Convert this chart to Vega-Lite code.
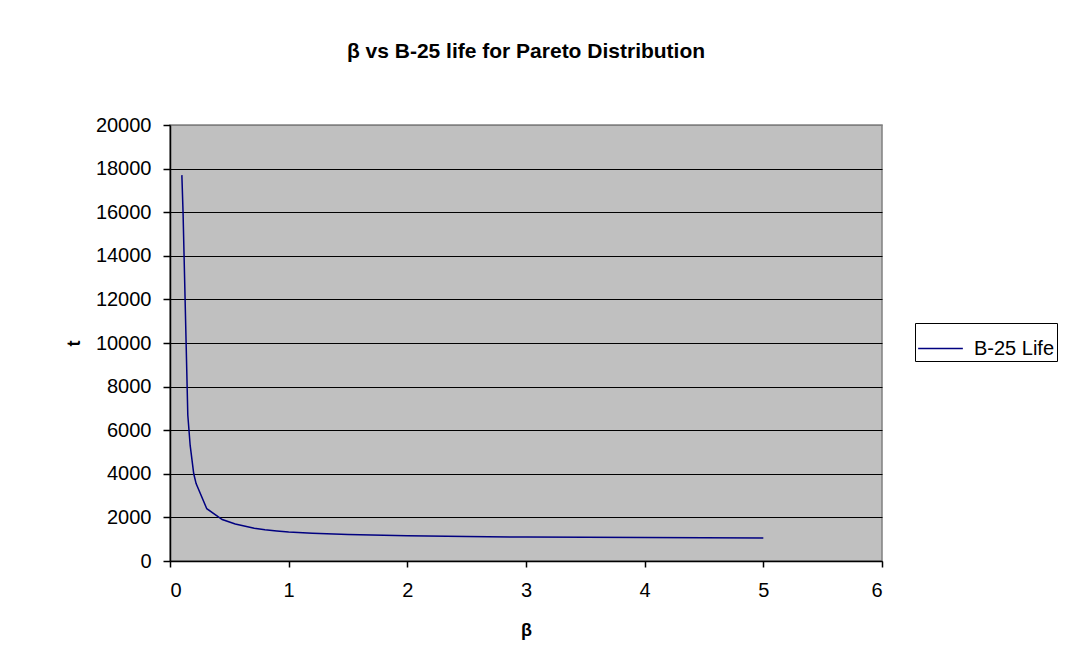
{
  "$schema": "https://vega.github.io/schema/vega-lite/v6.json",
  "width": 712,
  "height": 436,
  "autosize": {"type": "none"},
  "padding": {"left": 170, "top": 125, "right": 200, "bottom": 98},
  "background": "white",
  "title": {
    "text": "β vs B-25 life for Pareto Distribution",
    "font": "Liberation Sans",
    "fontSize": 21,
    "fontWeight": "bold",
    "color": "black",
    "anchor": "middle",
    "offset": 53
  },
  "data": {
    "values": [
      {"beta": 0.10, "t": 17700, "series": "B-25 Life"},
      {"beta": 0.11, "t": 16000, "series": "B-25 Life"},
      {"beta": 0.15, "t": 6700, "series": "B-25 Life"},
      {"beta": 0.17, "t": 5300, "series": "B-25 Life"},
      {"beta": 0.20, "t": 4000, "series": "B-25 Life"},
      {"beta": 0.22, "t": 3550, "series": "B-25 Life"},
      {"beta": 0.31, "t": 2400, "series": "B-25 Life"},
      {"beta": 0.44, "t": 1900, "series": "B-25 Life"},
      {"beta": 0.55, "t": 1700, "series": "B-25 Life"},
      {"beta": 0.71, "t": 1500, "series": "B-25 Life"},
      {"beta": 0.80, "t": 1430, "series": "B-25 Life"},
      {"beta": 0.90, "t": 1380, "series": "B-25 Life"},
      {"beta": 1.00, "t": 1330, "series": "B-25 Life"},
      {"beta": 1.20, "t": 1270, "series": "B-25 Life"},
      {"beta": 1.50, "t": 1210, "series": "B-25 Life"},
      {"beta": 2.00, "t": 1155, "series": "B-25 Life"},
      {"beta": 2.50, "t": 1120, "series": "B-25 Life"},
      {"beta": 3.00, "t": 1100, "series": "B-25 Life"},
      {"beta": 4.00, "t": 1075, "series": "B-25 Life"},
      {"beta": 5.00, "t": 1060, "series": "B-25 Life"}
    ]
  },
  "mark": {"type": "line", "strokeWidth": 1.5, "clip": false},
  "encoding": {
    "x": {
      "field": "beta",
      "type": "quantitative",
      "scale": {"domain": [0, 6], "nice": false, "zero": true},
      "axis": {
        "title": "β",
        "values": [0, 1, 2, 3, 4, 5, 6],
        "grid": false,
        "tickSize": 6,
        "labelPadding": 13,
        "titlePadding": 21
      }
    },
    "y": {
      "field": "t",
      "type": "quantitative",
      "scale": {"domain": [0, 20000], "nice": false},
      "axis": {
        "title": "t",
        "values": [0, 2000, 4000, 6000, 8000, 10000, 12000, 14000, 16000, 18000, 20000],
        "grid": true,
        "gridColor": {"condition": {"test": "datum.value === 20000", "value": "#808080"}, "value": "black"},
        "gridWidth": 1,
        "gridOpacity": 1,
        "tickSize": 7,
        "labelPadding": 12,
        "titlePadding": 12,
        "format": "d"
      }
    },
    "color": {
      "field": "series",
      "type": "nominal",
      "scale": {"range": ["#000080"]},
      "legend": {
        "title": null,
        "orient": "none",
        "legendX": 745,
        "legendY": 198,
        "strokeColor": "black",
        "fillColor": "white",
        "padding": 2,
        "symbolType": "stroke",
        "symbolSize": 2000,
        "symbolStrokeWidth": 1.5,
        "labelFontSize": 20,
        "labelFont": "Liberation Sans",
        "labelColor": "black",
        "labelOffset": 10
      }
    }
  },
  "config": {
    "view": {"fill": "#C0C0C0", "stroke": "#808080", "strokeWidth": 1.5},
    "axis": {
      "domainColor": "black",
      "domainWidth": 1.5,
      "tickColor": "black",
      "tickWidth": 1.5,
      "labelFont": "Liberation Sans",
      "labelFontSize": 20,
      "labelColor": "black",
      "titleFont": "Liberation Sans",
      "titleFontSize": 18,
      "titleFontWeight": "bold",
      "titleColor": "black"
    }
  }
}
